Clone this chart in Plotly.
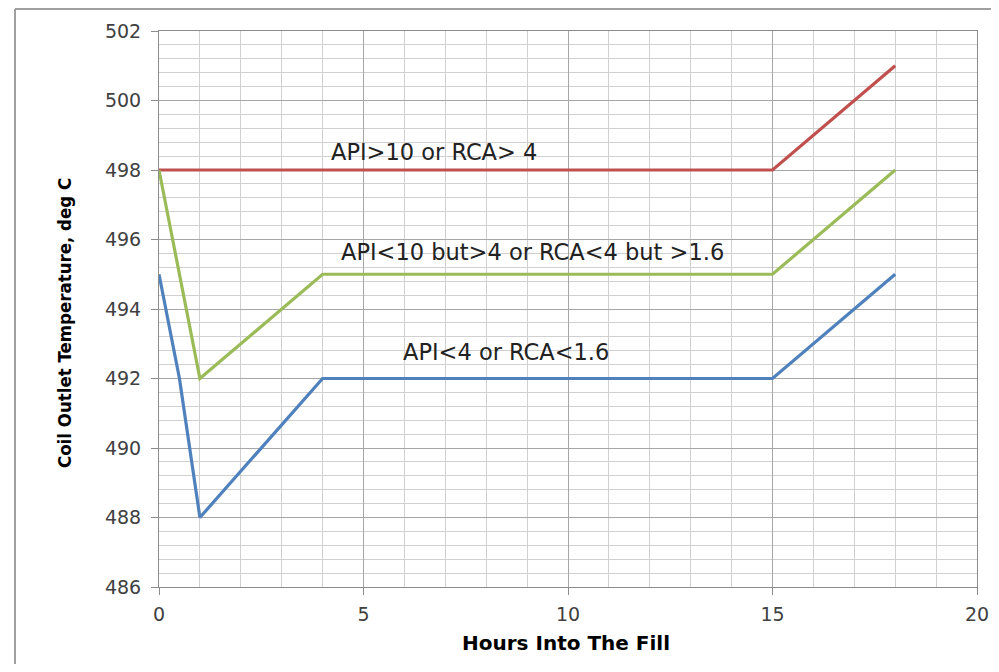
import plotly.graph_objects as go

# Data
red_x = [0, 15, 18]
red_y = [498, 498, 501]
green_x = [0, 1, 4, 15, 18]
green_y = [498, 492, 495, 495, 498]
blue_x = [0, 0.5, 1, 4, 15, 18]
blue_y = [495, 492, 488, 492, 492, 495]

labels = ["API>10 or RCA> 4", "API<10 but>4 or RCA<4 but >1.6", "API<4 or RCA<1.6"]
label_x = [6.72, 9.12, 8.48]
label_y = [498.52, 495.64, 492.76]

x_title = "Hours Into The Fill"
y_title = "Coil Outlet Temperature, deg C"

fig = go.Figure()
fig.add_trace(go.Scatter(x=red_x, y=red_y, mode="lines", line=dict(color="#c0504d", width=3.2), showlegend=False))
fig.add_trace(go.Scatter(x=green_x, y=green_y, mode="lines", line=dict(color="#9bbb59", width=3.2), showlegend=False))
fig.add_trace(go.Scatter(x=blue_x, y=blue_y, mode="lines", line=dict(color="#4f81bd", width=3.2), showlegend=False))

for t, x, y in zip(labels, label_x, label_y):
    fig.add_annotation(x=x, y=y, text=t, showarrow=False, xanchor="center", yanchor="middle",
                       font=dict(family="DejaVu Sans", size=22.5, color="#222222"))

font_ticks = dict(family="DejaVu Sans", size=19, color="#404040")

fig.update_xaxes(range=[0, 20], dtick=5, tick0=0, showgrid=True, gridcolor="#a6a6a6", gridwidth=1,
                 minor=dict(dtick=1, showgrid=True, gridcolor="#d0d0d0", gridwidth=1),
                 showline=True, linecolor="#8c8c8c", linewidth=1, mirror=True, automargin=False,
                 ticks="outside", ticklen=7, tickcolor="#8c8c8c", tickfont=font_ticks, zeroline=False,
                 ticklabelstandoff=3)
fig.update_yaxes(range=[486, 502], dtick=2, tick0=486, showgrid=True, gridcolor="#a6a6a6", gridwidth=1,
                 minor=dict(dtick=0.4, showgrid=True, gridcolor="#d0d0d0", gridwidth=1),
                 showline=True, linecolor="#8c8c8c", linewidth=1, mirror=True, automargin=False,
                 ticks="outside", ticklen=7, tickcolor="#8c8c8c", tickfont=font_ticks, zeroline=False,
                 ticklabelstandoff=6)

# axis titles
fig.add_annotation(xref="paper", yref="paper", x=0.4976, y=-0.1007, text="<b>" + x_title + "</b>",
                   showarrow=False, xanchor="center", yanchor="middle",
                   font=dict(family="DejaVu Sans", size=20, color="#000000"))
fig.add_annotation(xref="paper", yref="paper", x=-0.1161, y=0.4748, text="<b>" + y_title + "</b>",
                   textangle=-90, showarrow=False, xanchor="center", yanchor="middle",
                   font=dict(family="DejaVu Sans Condensed", size=18.5, color="#000000"))

pw, ph = 818, 556
lx = (7 - 151) / pw
ty = 1 + 22 / ph
fig.add_shape(type="line", xref="paper", yref="paper", x0=lx, x1=lx, y0=ty, y1=-0.3,
              line=dict(color="#a0a0a0", width=2))
fig.add_shape(type="line", xref="paper", yref="paper", x0=lx, x1=1.1, y0=ty, y1=ty,
              line=dict(color="#a0a0a0", width=2))

fig.update_layout(width=983, height=656, margin=dict(l=151, r=14, t=23, b=77, autoexpand=False),
                  plot_bgcolor="white", paper_bgcolor="white")

fig.write_html("out.html")
